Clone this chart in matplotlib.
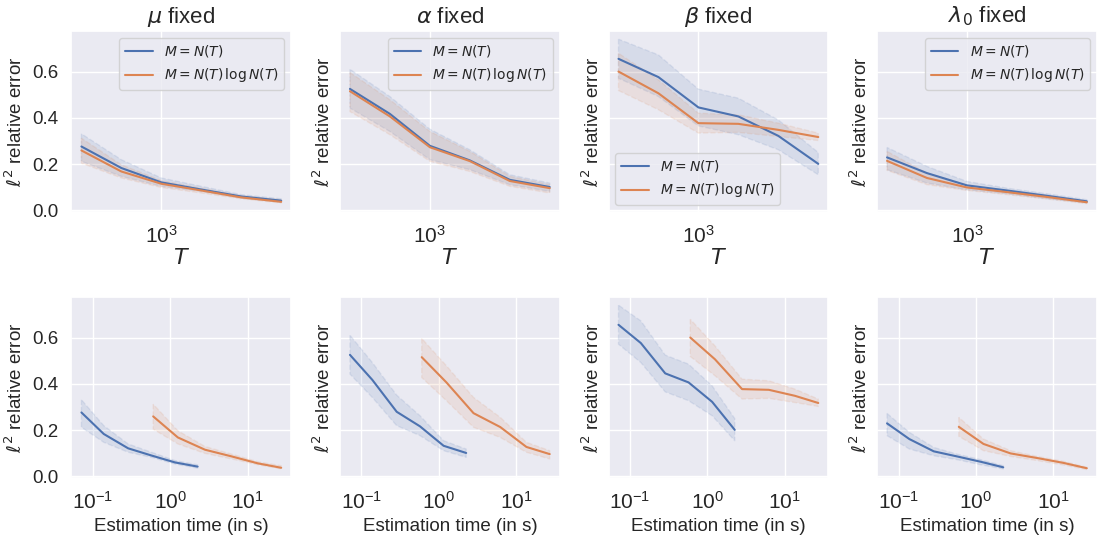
import numpy as np
import matplotlib.pyplot as plt
import seaborn as sns

# horizon T (top row) and estimation times in seconds (bottom row)
T_vals = [250, 500, 1000, 2000, 4000, 8000]
time_N = [0.071, 0.138, 0.285, 0.57, 1.15, 2.25]
time_NlogN = [0.6, 1.25, 2.8, 6.2, 13.5, 27.0]

# mu fixed
mu_N = [0.276, 0.183, 0.121, 0.090, 0.060, 0.042]
mu_N_lo = [0.212, 0.147, 0.104, 0.082, 0.053, 0.035]
mu_N_hi = [0.331, 0.219, 0.140, 0.104, 0.068, 0.050]
mu_L = [0.259, 0.168, 0.115, 0.086, 0.056, 0.037]
mu_L_lo = [0.204, 0.140, 0.099, 0.075, 0.050, 0.032]
mu_L_hi = [0.312, 0.197, 0.129, 0.096, 0.063, 0.046]

# alpha fixed
al_N = [0.525, 0.417, 0.279, 0.216, 0.132, 0.101]
al_N_lo = [0.442, 0.341, 0.219, 0.176, 0.111, 0.082]
al_N_hi = [0.610, 0.492, 0.351, 0.262, 0.154, 0.118]
al_L = [0.515, 0.406, 0.273, 0.213, 0.127, 0.096]
al_L_lo = [0.427, 0.327, 0.212, 0.168, 0.104, 0.075]
al_L_hi = [0.596, 0.478, 0.341, 0.255, 0.147, 0.111]

# beta fixed
be_N = [0.655, 0.576, 0.445, 0.406, 0.322, 0.201]
be_N_lo = [0.571, 0.492, 0.365, 0.327, 0.262, 0.154]
be_N_hi = [0.740, 0.672, 0.524, 0.485, 0.391, 0.250]
be_L = [0.600, 0.506, 0.377, 0.374, 0.348, 0.317]
be_L_lo = [0.518, 0.435, 0.334, 0.337, 0.319, 0.302]
be_L_hi = [0.679, 0.564, 0.420, 0.413, 0.377, 0.334]

# lambda_0 fixed
la_N = [0.229, 0.161, 0.108, 0.086, 0.063, 0.039]
la_N_lo = [0.176, 0.118, 0.089, 0.072, 0.050, 0.032]
la_N_hi = [0.272, 0.190, 0.125, 0.096, 0.072, 0.046]
la_L = [0.214, 0.140, 0.099, 0.079, 0.058, 0.035]
la_L_lo = [0.173, 0.111, 0.086, 0.068, 0.049, 0.029]
la_L_hi = [0.255, 0.161, 0.111, 0.086, 0.065, 0.039]

titles = [r"$\mu$ fixed", r"$\alpha$ fixed", r"$\beta$ fixed", r"$\lambda_0$ fixed"]
labels = [r"$M = N(T)$", r"$M = N(T)\,\log N(T)$"]
legend_loc = ["upper right", "upper right", "lower left", "upper right"]

panels = [
    ((mu_N, mu_N_lo, mu_N_hi), (mu_L, mu_L_lo, mu_L_hi)),
    ((al_N, al_N_lo, al_N_hi), (al_L, al_L_lo, al_L_hi)),
    ((be_N, be_N_lo, be_N_hi), (be_L, be_L_lo, be_L_hi)),
    ((la_N, la_N_lo, la_N_hi), (la_L, la_L_lo, la_L_hi)),
]

sns.set_theme(style="darkgrid")
plt.rcParams['font.family'] = ['Liberation Sans', 'DejaVu Sans']
colors = sns.color_palette("deep")[:2]

fig, axes = plt.subplots(2, 4, figsize=(10.99, 5.43), dpi=100, sharey=True)
fig.subplots_adjust(left=0.065, right=0.998, top=0.943, bottom=0.12,
                    wspace=0.222, hspace=0.47)

times = [time_N, time_NlogN]
for j, series in enumerate(panels):
    top = axes[0, j]
    bot = axes[1, j]
    for k, (mean, lo, hi) in enumerate(series):
        c = colors[k]
        top.plot(T_vals, mean, color=c, lw=1.5, label=labels[k])
        top.fill_between(T_vals, lo, hi, color=c, alpha=0.12, linestyle='--', lw=1)
        bot.plot(times[k], mean, color=c, lw=1.5)
        bot.fill_between(times[k], lo, hi, color=c, alpha=0.12, linestyle='--', lw=1)
    for ax in (top, bot):
        ax.set_xscale('log')
        ax.set_ylabel(r"$\ell^2$ relative error", fontsize=13.5)
        ax.tick_params(axis='x', labelsize=15)
        ax.tick_params(axis='y', labelsize=13.5)
    top.set_title(titles[j], fontsize=16)
    top.set_xlabel(r"$T$", fontsize=16, labelpad=1)
    bot.set_xlabel("Estimation time (in s)", fontsize=13.5)
    top.legend(loc=legend_loc[j], fontsize=10)

axes[0, 0].set_yticks([0.0, 0.2, 0.4, 0.6])

plt.savefig("out.png", dpi=100)
